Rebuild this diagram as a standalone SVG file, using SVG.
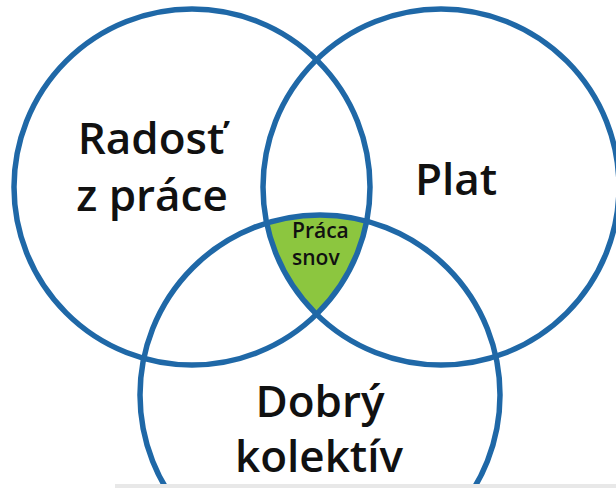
<svg xmlns="http://www.w3.org/2000/svg" width="616" height="488" viewBox="0 0 616 488">
  <style>
    .ring { fill: none; stroke: #1f68a7; stroke-width: 5.5; }
    .big { font-family: "Open Sans", "Liberation Sans", sans-serif; font-weight: 600; font-size: 44px; fill: #111111; }
    .small { font-family: "Open Sans", "Liberation Sans", sans-serif; font-weight: 600; font-size: 21px; fill: #111111; }
  </style>
  <defs>
    <clipPath id="clipLeft"><circle cx="192" cy="187" r="178"/></clipPath>
    <clipPath id="clipRight"><circle cx="441" cy="187" r="178"/></clipPath>
  </defs>
  <rect x="0" y="0" width="616" height="488" fill="#ffffff"/>
  <g id="center-fill" clip-path="url(#clipLeft)">
    <g clip-path="url(#clipRight)">
      <circle cx="320" cy="395" r="180" fill="#8cc63f"/>
    </g>
  </g>
  <g id="radost">
    <circle class="ring" cx="192" cy="187" r="178"/>
    <text class="big" x="151" y="154" text-anchor="middle">Radosť</text>
    <text class="big" x="152" y="211" text-anchor="middle">z práce</text>
  </g>
  <g id="plat">
    <circle class="ring" cx="441" cy="187" r="178"/>
    <text class="big" x="456" y="195" text-anchor="middle">Plat</text>
  </g>
  <g id="kolektiv">
    <circle class="ring" cx="320" cy="395" r="180"/>
    <text class="big" x="320" y="417" text-anchor="middle">Dobrý</text>
    <text class="big" x="319" y="472" text-anchor="middle">kolektív</text>
  </g>
  <g id="praca-snov">
    <text class="small" x="292" y="238">Práca</text>
    <text class="small" x="292" y="265">snov</text>
  </g>
  <g id="connectors"></g>
  <rect x="115" y="484" width="501" height="4" fill="#e8e8e8"/>
</svg>
